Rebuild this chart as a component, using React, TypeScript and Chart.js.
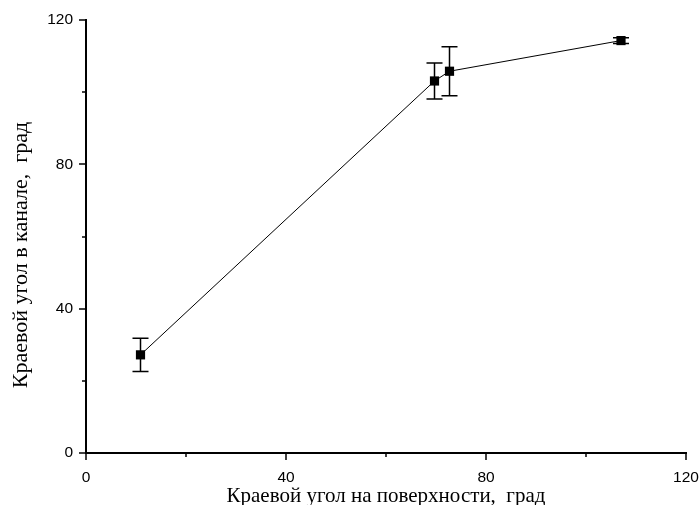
import React, { useEffect, useRef } from "react";
import { Chart, registerables } from "chart.js";

Chart.register(...registerables);

const xValues = [10.9, 69.7, 72.7, 107.0];
const yValues = [27.2, 103.1, 105.8, 114.3];
const yErrors = [4.6, 5.0, 6.8, 0.8];

const majorTicks = [0, 40, 80, 120];
const minorTicks = [20, 60, 100];

const xTitle = "Краевой угол на поверхности,  град";
const yTitle = "Краевой угол в канале,  град";

const sansFont = '"Liberation Sans", Arial, sans-serif';
const serifFont = '"Liberation Serif", "Times New Roman", serif';

const errorBarPlugin = {
  id: "errorBars",
  afterDatasetsDraw(chart: any) {
    const ctx = chart.ctx;
    const xs = chart.scales.x;
    const ys = chart.scales.y;
    ctx.save();
    ctx.strokeStyle = "#000";
    ctx.lineWidth = 1.5;
    xValues.forEach((xv, i) => {
      const px = xs.getPixelForValue(xv);
      const top = ys.getPixelForValue(yValues[i] + yErrors[i]);
      const bot = ys.getPixelForValue(yValues[i] - yErrors[i]);
      ctx.beginPath();
      ctx.moveTo(px, top);
      ctx.lineTo(px, bot);
      ctx.moveTo(px - 8, top);
      ctx.lineTo(px + 8, top);
      ctx.moveTo(px - 8, bot);
      ctx.lineTo(px + 8, bot);
      ctx.stroke();
    });
    ctx.restore();
  },
};

const tickMarksPlugin = {
  id: "tickMarks",
  afterDraw(chart: any) {
    const ctx = chart.ctx;
    const xs = chart.scales.x;
    const ys = chart.scales.y;
    const area = chart.chartArea;
    ctx.save();
    ctx.strokeStyle = "#000";
    ctx.lineWidth = 1.5;
    const drawX = (v: number, len: number) => {
      const px = Math.round(xs.getPixelForValue(v));
      ctx.beginPath();
      ctx.moveTo(px, area.bottom);
      ctx.lineTo(px, area.bottom + len);
      ctx.stroke();
    };
    const drawY = (v: number, len: number) => {
      const py = Math.round(ys.getPixelForValue(v));
      ctx.beginPath();
      ctx.moveTo(area.left, py);
      ctx.lineTo(area.left - len, py);
      ctx.stroke();
    };
    majorTicks.forEach((v) => { drawX(v, 7); drawY(v, 7); });
    minorTicks.forEach((v) => { drawX(v, 4); drawY(v, 4); });

    // y-axis title (placed slightly below the plot centre, as in the reference)
    ctx.fillStyle = "#000";
    ctx.font = `22px ${serifFont}`;
    ctx.textAlign = "center";
    ctx.textBaseline = "middle";
    ctx.translate(21, 255);
    ctx.rotate(-Math.PI / 2);
    ctx.fillText(yTitle, 0, 0);
    ctx.restore();
  },
};

export default function App() {
  const ref = useRef<HTMLCanvasElement | null>(null);
  useEffect(() => {
    if (!ref.current) return;
    const chart = new Chart(ref.current, {
      type: "scatter",
      data: {
        datasets: [
          {
            data: xValues.map((x, i) => ({ x, y: yValues[i] })),
            showLine: true,
            borderColor: "#000",
            borderWidth: 1,
            backgroundColor: "#000",
            pointStyle: "rect",
            pointRadius: 6.5,
            pointHoverRadius: 6.5,
            pointBorderWidth: 0,
          },
        ],
      },
      options: {
        animation: false,
        responsive: false,
        maintainAspectRatio: false,
        layout: { padding: { top: 20, right: 14, bottom: 0, left: 0 } },
        plugins: { legend: { display: false }, tooltip: { enabled: false } },
        scales: {
          x: {
            type: "linear",
            min: 0,
            max: 120,
            grid: { display: false, drawTicks: false },
            border: { display: true, color: "#000", width: 2 },
            ticks: {
              stepSize: 20,
              padding: 15,
              color: "#000",
              font: { family: sansFont, size: 15.5 },
              maxRotation: 0,
              autoSkip: false,
              callback: (v: any) => (majorTicks.includes(Number(v)) ? String(v) : ""),
            },
            title: {
              display: true,
              text: xTitle,
              color: "#000",
              font: { family: serifFont, size: 21 },
              padding: { top: 0, bottom: -4 },
            },
            afterFit: (s: any) => {
              s.height = 52;
              s.paddingLeft = 0;
              s.paddingRight = 0;
            },
          },
          y: {
            type: "linear",
            min: 0,
            max: 120,
            grid: { display: false, drawTicks: false },
            border: { display: true, color: "#000", width: 2 },
            ticks: {
              stepSize: 20,
              padding: 13,
              color: "#000",
              font: { family: sansFont, size: 15.5 },
              autoSkip: false,
              callback: (v: any) => (majorTicks.includes(Number(v)) ? String(v) : ""),
            },
            title: { display: false, text: yTitle },
            afterFit: (s: any) => {
              s.width = 86;
              s.paddingTop = 0;
              s.paddingBottom = 0;
            },
          },
        },
      },
      plugins: [errorBarPlugin, tickMarksPlugin],
    } as any);
    return () => chart.destroy();
  }, []);
  return (
    <div style={{ position: "fixed", left: 0, top: 0, width: 700, height: 505, background: "#fff" }}>
      <canvas ref={ref} width={700} height={505} style={{ display: "block", width: 700, height: 505 }} />
    </div>
  );
}
